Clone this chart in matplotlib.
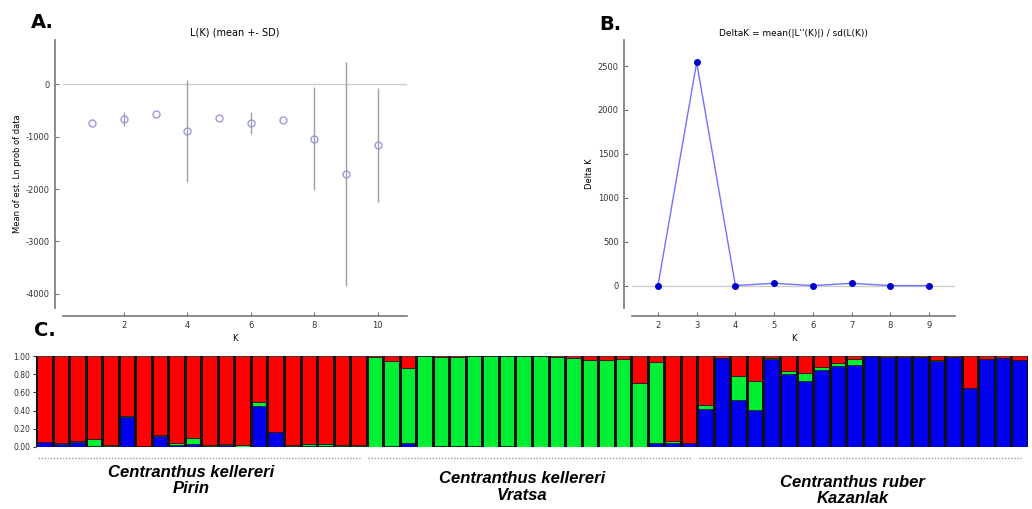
import numpy as np
import matplotlib
matplotlib.use("Agg")
import matplotlib.pyplot as plt

W, H = 1032, 509

# --- Panel A: L(K) mean +- SD ---
k_a = [1, 2, 3, 4, 5, 6, 7, 8, 9, 10]
lk_mean = [-730, -665, -560, -890, -650, -740, -680, -1035, -1710, -1165]
lk_sd = [0, 140, 0, 975, 0, 210, 0, 980, 2140, 1090]

# --- Panel B: Delta K ---
k_b = [2, 3, 4, 5, 6, 7, 8, 9]
delta_k = [0, 2540, 2, 27, 1, 27, 1, 1]

# --- Panel C: ancestry proportions (60 individuals, 3 populations) ---
groups = ["Centranthus kellereri\nPirin", "Centranthus kellereri\nVratsa",
          "Centranthus ruber\nKazanlak"]
group_sizes = [20, 20, 20]

q_blue = [0.05, 0.03, 0.05, 0.01, 0.01, 0.33, 0.01, 0.12, 0.02, 0.035,
          0.01, 0.02, 0.00, 0.45, 0.16, 0.01, 0.01, 0.01, 0.01, 0.01,
          0.00, 0.01, 0.04, 0.00, 0.01, 0.01, 0.01, 0.00, 0.01, 0.00,
          0.00, 0.00, 0.00, 0.00, 0.00, 0.00, 0.00, 0.04, 0.04, 0.04,
          0.42, 0.98, 0.52, 0.41, 0.965, 0.80, 0.73, 0.85, 0.895, 0.90,
          0.995, 0.99, 0.99, 0.99, 0.945, 0.99, 0.65, 0.97, 0.98, 0.955]
q_green = [0.00, 0.01, 0.02, 0.08, 0.01, 0.01, 0.00, 0.01, 0.02, 0.065,
           0.01, 0.01, 0.02, 0.04, 0.00, 0.01, 0.02, 0.02, 0.01, 0.01,
           0.99, 0.93, 0.825, 1.00, 0.98, 0.98, 0.99, 1.00, 0.99, 1.00,
           1.00, 0.99, 0.98, 0.96, 0.96, 0.97, 0.70, 0.89, 0.03, 0.00,
           0.04, 0.00, 0.26, 0.31, 0.015, 0.035, 0.08, 0.03, 0.025, 0.065,
           0.00, 0.00, 0.00, 0.00, 0.015, 0.00, 0.00, 0.00, 0.00, 0.00]
q_red = [0.95, 0.96, 0.93, 0.91, 0.98, 0.66, 0.99, 0.87, 0.96, 0.90,
         0.98, 0.97, 0.98, 0.51, 0.84, 0.98, 0.97, 0.97, 0.98, 0.98,
         0.01, 0.06, 0.135, 0.00, 0.01, 0.01, 0.00, 0.00, 0.00, 0.00,
         0.00, 0.01, 0.02, 0.04, 0.04, 0.03, 0.30, 0.07, 0.93, 0.96,
         0.54, 0.02, 0.22, 0.28, 0.02, 0.165, 0.19, 0.12, 0.08, 0.035,
         0.005, 0.01, 0.01, 0.01, 0.04, 0.01, 0.35, 0.03, 0.02, 0.045]
c_ticks = [0.0, 0.2, 0.4, 0.6, 0.8, 1.0]


def add_ax(fig, left, top, right, bottom):
    # pixel box -> figure fraction
    return fig.add_axes([left / W, 1 - bottom / H, (right - left) / W, (bottom - top) / H])


def style_small(ax):
    for s in ("top", "right"):
        ax.spines[s].set_visible(False)
    for s in ("left", "bottom"):
        ax.spines[s].set_color("#777777")
        ax.spines[s].set_linewidth(1.2)
        ax.spines[s].set_position(("outward", 6))
    ax.tick_params(labelsize=6, colors="#333333", length=3, width=0.8, direction="in")
    ax.tick_params(axis="both", color="#777777")


plt.rcParams["font.family"] = ["DejaVu Sans"]
plt.rcParams["axes.unicode_minus"] = False
fig = plt.figure(figsize=(W / 100, H / 100), dpi=100)

# Panel A
ax_a = add_ax(fig, 63, 40, 407, 308)
style_small(ax_a)
ax_a.axhline(0, color="#cccccc", lw=1, zorder=0)
ax_a.errorbar(k_a, lk_mean, yerr=lk_sd, fmt="o", mfc="none", mec="#9a9ae0",
              ms=5, mew=1, ecolor="#a0a0a0", elinewidth=1, capsize=0)
ax_a.set_xlim(0.08, 10.92)
ax_a.set_ylim(-4270, 845)
ax_a.set_xticks([2, 4, 6, 8, 10])
ax_a.set_yticks([0, -1000, -2000, -3000, -4000])
ax_a.set_title("L(K) (mean +- SD)", fontsize=7, pad=3)
ax_a.set_xlabel("K", fontsize=6, labelpad=3)
ax_a.set_ylabel("Mean of est. Ln prob of data", fontsize=6, labelpad=3)
fig.text(42 / W, 1 - 22 / H, "A.", fontsize=14, fontweight="bold", va="center", ha="center")

# Panel B
ax_b = add_ax(fig, 632, 40, 955, 308)
style_small(ax_b)
ax_b.axhline(0, color="#cccccc", lw=1, zorder=0)
ax_b.plot(k_b, delta_k, color="#7070ff", lw=1, marker="o", ms=4,
          mfc="#0000cc", mec="#0000cc")
ax_b.set_xlim(1.33, 9.67)
ax_b.set_ylim(-254, 2796)
ax_b.set_xticks(k_b)
ax_b.set_yticks([0, 500, 1000, 1500, 2000, 2500])
ax_b.set_title("DeltaK = mean(|L''(K)|) / sd(L(K))", fontsize=6.5, pad=3)
ax_b.set_xlabel("K", fontsize=6, labelpad=3)
ax_b.set_ylabel("Delta K", fontsize=6, labelpad=3)
fig.text(610 / W, 1 - 24 / H, "B.", fontsize=14, fontweight="bold", va="center", ha="center")

# Panel C
ax_c = add_ax(fig, 36, 356, 1028, 447)
x = np.arange(len(q_blue))
blue = np.array(q_blue)
green = np.array(q_green)
red = np.array(q_red)
edge = dict(edgecolor="#151515", linewidth=0.5, width=1.0)
ax_c.bar(x, blue, color="#0000ee", **edge)
ax_c.bar(x, green, bottom=blue, color="#00ee33", **edge)
ax_c.bar(x, red, bottom=blue + green, color="#ff0000", **edge)
# dark separators between individuals
ax_c.vlines(np.append(x - 0.5, x[-1] + 0.5), 0, 1, color="#111111", lw=1.0,
            zorder=3, antialiased=False)
ax_c.set_xlim(-0.5, len(x) - 0.5)
ax_c.set_ylim(0, 1.0)
ax_c.set_yticks(c_ticks)
ax_c.set_yticklabels([f"{t:.2f}" for t in c_ticks])
ax_c.set_xticks([])
for s in ("top", "right", "bottom"):
    ax_c.spines[s].set_visible(False)
ax_c.spines["left"].set_color("#888888")
ax_c.tick_params(axis="y", labelsize=5.5, length=2, colors="#333333", pad=2)
fig.text(45 / W, 1 - 330 / H, "C.", fontsize=14, fontweight="bold", va="center", ha="center")

# group underlines and labels
label_y = [-0.37, -0.44, -0.48]
start = 0
for name, n, ly in zip(groups, group_sizes, label_y):
    x0, x1 = start - 0.5, start + n - 0.5
    ax_c.plot([x0 + 0.1, x1 - 0.4], [-0.12, -0.12], transform=ax_c.get_xaxis_transform(),
              color="#999999", lw=1, ls=(0, (1, 1.2)), clip_on=False)
    ax_c.text((x0 + x1) / 2 - 0.6, ly, name, transform=ax_c.get_xaxis_transform(),
              ha="center", va="center", fontsize=12, fontweight="bold", style="italic",
              family=["Liberation Sans", "DejaVu Sans"], linespacing=1.1)
    start += n

fig.savefig("out.png", dpi=100)
